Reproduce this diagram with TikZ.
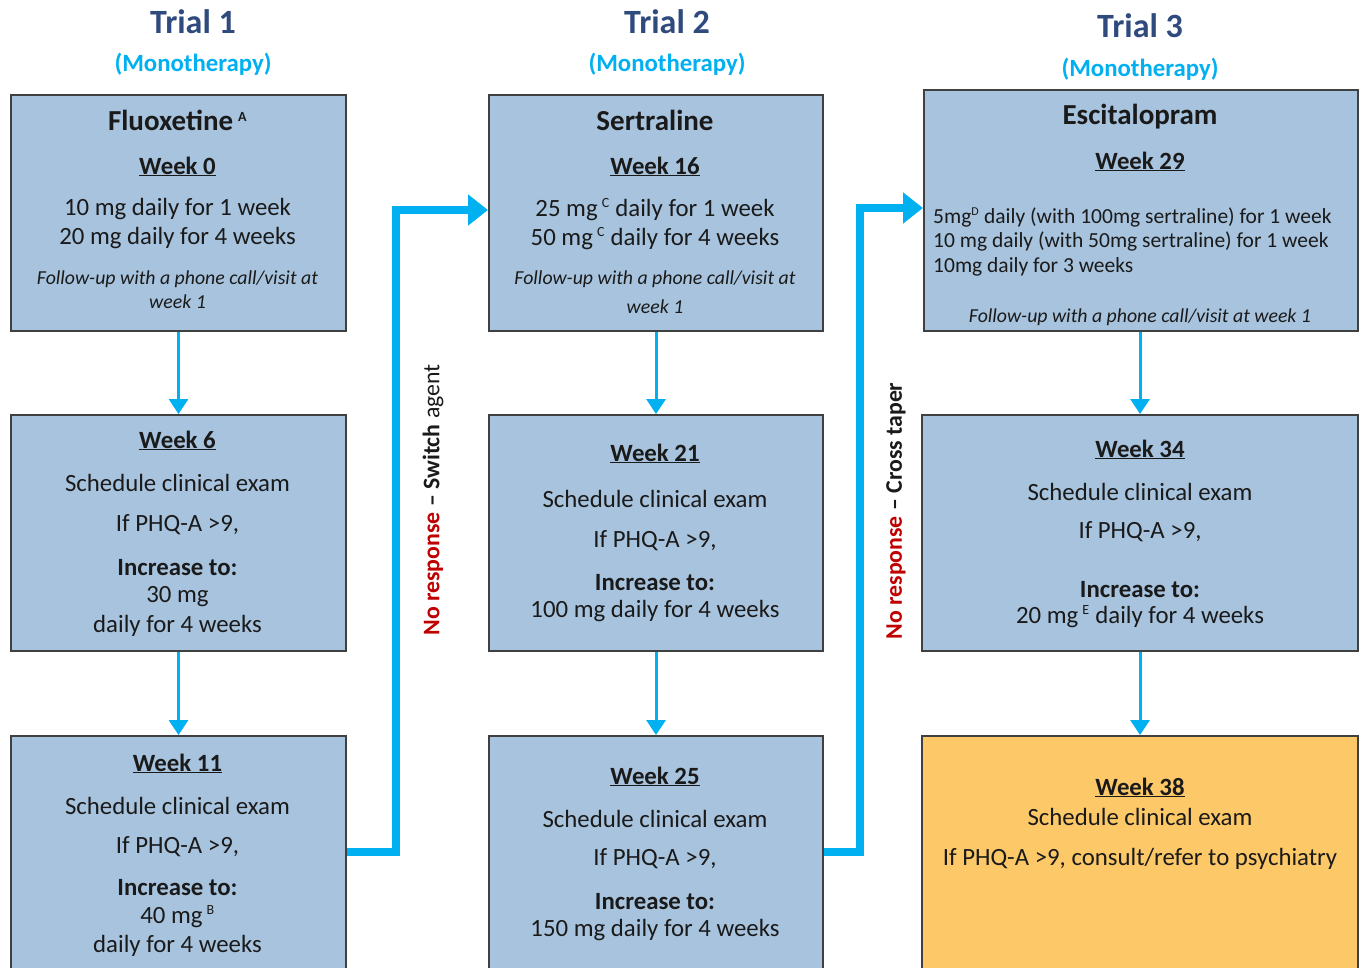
\documentclass[tikz,border=0pt]{standalone}
\usepackage{fontspec}
\setmainfont{Carlito}
\usetikzlibrary{arrows.meta}
\definecolor{boxblue}{HTML}{A7C3DD}
\definecolor{boxorange}{HTML}{FDC968}
\definecolor{cyanline}{HTML}{00B0F0}
\definecolor{titleblue}{HTML}{2F4A7D}
\definecolor{redtxt}{HTML}{C00000}
\definecolor{edgegray}{HTML}{404040}
\definecolor{txtcol}{HTML}{1A1A1A}
\begin{document}
\begin{tikzpicture}[x=1pt,y=-1pt,
  box/.style={draw=edgegray, line width=2pt, fill=boxblue, inner sep=0pt, anchor=north west},
  obox/.style={box, fill=boxorange},
  base/.style={inner sep=0pt, text=txtcol, yshift=-1.5pt},
  txt/.style={base, font=\fontsize{24.8}{29}\selectfont},
  hd/.style={base, font=\fontsize{24.8}{29}\selectfont\bfseries},
  drug/.style={base, font=\fontsize{29}{33}\selectfont\bfseries},
  note/.style={base, font=\fontsize{19.8}{24}\selectfont\itshape},
  small/.style={base, font=\fontsize{21.5}{24.5}\selectfont},
  trial/.style={base, font=\fontsize{34}{38}\selectfont\bfseries, text=titleblue},
  mono/.style={base, font=\fontsize{24.8}{28}\selectfont\bfseries, text=cyanline},
  side/.style={inner sep=0pt, text=txtcol, font=\fontsize{23.8}{28}\selectfont\bfseries, rotate=90},
  arr/.style={draw=cyanline, line width=3pt, -{Triangle[length=15pt,width=19pt]}},
  conn/.style={draw=cyanline, line width=8pt, line join=miter, -{Triangle[length=20pt,width=30pt]}}
]
\clip (0,0) rectangle (1359,968);
\fill[white] (0,0) rectangle (1359,968);

% titles
\node[trial] (t1) at (193,20) {Trial 1};
\node[mono] (m1) at (193,63) {(Monotherapy)};
\node[trial] (t2) at (667,20) {Trial 2};
\node[mono] (m2) at (667,63) {(Monotherapy)};
\node[trial] (t3) at (1140,24) {Trial 3};
\node[mono] (m3) at (1140,68) {(Monotherapy)};

% boxes
\node[box, minimum width=335pt, minimum height=236pt] (b11) at (10,94) {};
\node[box, minimum width=335pt, minimum height=236pt] (b12) at (10,414) {};
\node[box, minimum width=335pt, minimum height=280pt] (b13) at (10,735) {};
\node[box, minimum width=334pt, minimum height=236pt] (b21) at (488,94) {};
\node[box, minimum width=334pt, minimum height=236pt] (b22) at (488,414) {};
\node[box, minimum width=334pt, minimum height=280pt] (b23) at (488,735) {};
\node[box, minimum width=434pt, minimum height=241pt] (b31) at (923,89) {};
\node[box, minimum width=436pt, minimum height=236pt] (b32) at (921,414) {};
\node[obox, minimum width=436pt, minimum height=280pt] (b33) at (921,735) {};

% column 1 texts
\node[drug] (a1) at (177.5,119) {Fluoxetine\,\textsuperscript{\fontsize{14}{14}\selectfont A}};
\node[hd] (a2) at (177.5,165) {\underline{Week 0}};
\node[txt] (a3) at (177.5,208) {10 mg daily for 1 week};
\node[txt] (a4) at (177.5,237) {20 mg daily for 4 weeks};
\node[note] (a5) at (177.5,278) {Follow-up with a phone call/visit at};
\node[note] (a6) at (177.5,300) {week 1};

\node[hd] (c1) at (177.5,439) {\underline{Week 6}};
\node[txt] (c2) at (177.5,481) {Schedule clinical exam};
\node[txt] (c3) at (177.5,523) {If PHQ-A >9,};
\node[hd] (c4) at (177.5,566) {Increase to:};
\node[txt] (c5) at (177.5,595) {30 mg};
\node[txt] (c6) at (177.5,624) {daily for 4 weeks};

\node[hd] (d1) at (177.5,762) {\underline{Week 11}};
\node[txt] (d2) at (177.5,804) {Schedule clinical exam};
\node[txt] (d3) at (177.5,845) {If PHQ-A >9,};
\node[hd] (d4) at (177.5,886) {Increase to:};
\node[txt] (d5) at (177.5,915) {40 mg\,\textsuperscript{\fontsize{14}{14}\selectfont B}};
\node[txt] (d6) at (177.5,944) {daily for 4 weeks};

% column 2 texts
\node[drug] (e1) at (655,119) {Sertraline};
\node[hd] (e2) at (655,165) {\underline{Week 16}};
\node[txt] (e3) at (655,208) {25 mg\,\textsuperscript{\fontsize{14}{14}\selectfont C} daily for 1 week};
\node[txt] (e4) at (655,237) {50 mg\,\textsuperscript{\fontsize{14}{14}\selectfont C} daily for 4 weeks};
\node[note] (e5) at (655,278) {Follow-up with a phone call/visit at};
\node[note] (e6) at (655,305) {week 1};

\node[hd] (f1) at (655,452) {\underline{Week 21}};
\node[txt] (f2) at (655,497) {Schedule clinical exam};
\node[txt] (f3) at (655,539) {If PHQ-A >9,};
\node[hd] (f4) at (655,581) {Increase to:};
\node[txt] (f5) at (655,610) {100 mg daily for 4 weeks};

\node[hd] (g1) at (655,775) {\underline{Week 25}};
\node[txt] (g2) at (655,817) {Schedule clinical exam};
\node[txt] (g3) at (655,857) {If PHQ-A >9,};
\node[hd] (g4) at (655,900) {Increase to:};
\node[txt] (g5) at (655,929) {150 mg daily for 4 weeks};

% column 3 texts
\node[drug] (h1) at (1140,115) {Escitalopram};
\node[hd] (h2) at (1140,160) {\underline{Week 29}};
\node[small, align=left, anchor=west] (h3) at (933,240) {5mg\textsuperscript{\fontsize{12}{12}\selectfont D} daily (with 100mg sertraline) for 1 week\\10 mg daily (with 50mg sertraline) for 1 week\\10mg daily for 3 weeks};
\node[note] (h4) at (1140,316) {Follow-up with a phone call/visit at week 1};

\node[hd] (i1) at (1140,448) {\underline{Week 34}};
\node[txt] (i2) at (1140,490) {Schedule clinical exam};
\node[txt] (i3) at (1140,530) {If PHQ-A >9,};
\node[hd] (i4) at (1140,588) {Increase to:};
\node[txt] (i5) at (1140,615) {20 mg\,\textsuperscript{\fontsize{14}{14}\selectfont E} daily for 4 weeks};

\node[hd] (j1) at (1140,786) {\underline{Week 38}};
\node[txt] (j2) at (1140,815) {Schedule clinical exam};
\node[txt] (j3) at (1140,857) {If PHQ-A >9, consult/refer to psychiatry};

% vertical arrows
\draw[arr] (b11.south) -- (b12.north);
\draw[arr] (b12.south) -- (b13.north);
\draw[arr] (b21.south) -- (b22.north);
\draw[arr] (b22.south) -- (b23.north);
\draw[arr] (b31.south -| b32.north) -- (b32.north);
\draw[arr] (b32.south) -- (b33.north);

% switch connectors
\coordinate (k1) at (396,210);
\coordinate (k2) at (860,208);
\draw[conn] (b13.east |- 0,852) -| (k1) -- (b21.west |- k1);
\draw[conn] (b23.east |- 0,852) -| (k2) -- (b31.west |- k2);

\node[side] (s1) at (433,500) {\textcolor{redtxt}{No response} – Switch \mdseries agent};
\node[side] (s2) at (896,511) {\textcolor{redtxt}{No response} – Cross taper};
\end{tikzpicture}
\end{document}
